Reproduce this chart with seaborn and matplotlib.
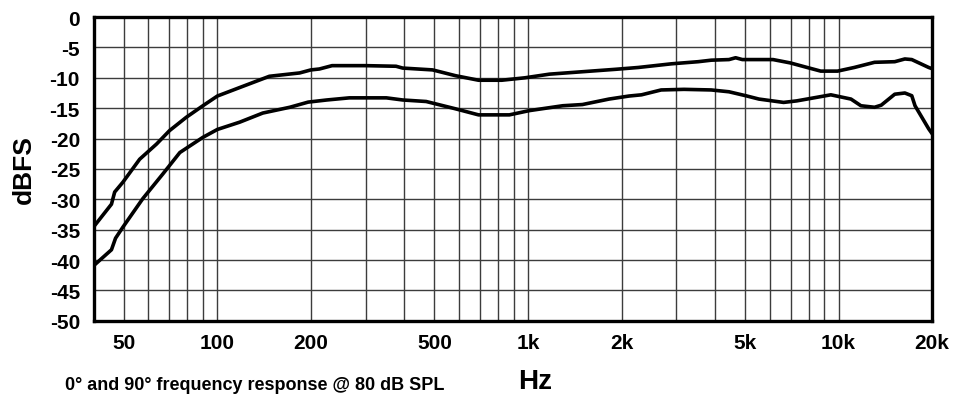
import numpy as np
import pandas as pd
import matplotlib
matplotlib.use("Agg")
import matplotlib.pyplot as plt
import seaborn as sns

sns.set_style("white")
plt.rcParams['font.family'] = ['Liberation Sans', 'DejaVu Sans']
plt.rcParams['font.weight'] = 'bold'
plt.rcParams['text.color'] = 'black'
plt.rcParams['axes.labelcolor'] = 'black'
plt.rcParams['xtick.color'] = 'black'
plt.rcParams['ytick.color'] = 'black'

# 0 degree response (upper curve)
freq_0 = [40, 45.6, 46.7, 49.6, 56.2, 63.7, 70.1, 79.4, 89.8, 100, 118, 147, 184,
          200, 213, 234, 300, 376, 395, 493, 584, 693, 823, 977, 1172, 1497, 1916,
          2265, 2893, 3530, 3890, 4436, 4660, 4900, 6150, 6990, 7920, 8760, 9920,
          11230, 13050, 15160, 16340, 17200, 19500, 20000]
db_0 = [-34.5, -30.8, -28.8, -27.2, -23.4, -20.9, -18.7, -16.5, -14.6, -13.0, -11.6,
        -9.75, -9.2, -8.7, -8.55, -8.0, -8.0, -8.1, -8.4, -8.7, -9.65, -10.4, -10.4,
        -10.0, -9.4, -9.0, -8.6, -8.3, -7.7, -7.35, -7.1, -7.0, -6.7, -7.0, -7.0,
        -7.55, -8.3, -8.9, -8.9, -8.3, -7.45, -7.35, -6.9, -7.0, -8.3, -8.5]

# 90 degree response (lower curve)
freq_90 = [40, 45.6, 47.0, 49.6, 57.5, 66.8, 75.7, 89.8, 100, 118, 140, 171, 196,
           225, 266, 350, 395, 470, 584, 693, 871, 1010, 1293, 1497, 1823, 2115,
           2320, 2683, 3179, 3890, 4436, 5025, 5540, 6650, 7330, 8320, 9440, 10960,
           11800, 13050, 13720, 15160, 16340, 17200, 17620, 19500, 20000]
db_90 = [-40.9, -38.3, -36.4, -34.6, -29.9, -25.8, -22.3, -19.8, -18.5, -17.3, -15.8,
         -14.85, -14.0, -13.65, -13.3, -13.3, -13.65, -13.9, -15.1, -16.1, -16.1,
         -15.4, -14.6, -14.4, -13.5, -13.0, -12.8, -12.0, -11.9, -12.0, -12.3, -12.95,
         -13.5, -14.05, -13.8, -13.3, -12.8, -13.5, -14.6, -14.85, -14.5, -12.7, -12.5,
         -12.95, -14.6, -18.4, -19.2]

x_ticks = [50, 100, 200, 500, 1000, 2000, 5000, 10000, 20000]
x_ticklabels = ['50', '100', '200', '500', '1k', '2k', '5k', '10k', '20k']
y_ticks = list(range(-50, 1, 5))

df = pd.concat([
    pd.DataFrame({'Hz': freq_0, 'dBFS': db_0, 'angle': '0'}),
    pd.DataFrame({'Hz': freq_90, 'dBFS': db_90, 'angle': '90'}),
])

fig = plt.figure(figsize=(9.57, 4.10), dpi=100)
ax = fig.add_axes([0.098, 0.215, 0.876, 0.741])

# log grid lines
grid_x = [f * d for d in (10, 100, 1000) for f in range(5 if d == 10 else 1, 10)] + [10000, 20000]
grid_x = [g for g in grid_x if 40 < g < 20000]
for g in grid_x:
    ax.axvline(g, color='#3c3c3c', lw=1.0, zorder=1)
for y in y_ticks:
    if -50 < y < 0:
        ax.axhline(y, color='#3c3c3c', lw=1.0, zorder=1)

sns.lineplot(data=df, x='Hz', y='dBFS', units='angle', estimator=None, sort=False,
             color='black', lw=2.6, ax=ax, zorder=3)

ax.set_xscale('log')
ax.set_xlim(40, 20000)
ax.set_ylim(-50, 0)
ax.set_xticks(x_ticks)
ax.set_xticklabels(x_ticklabels)
ax.xaxis.set_minor_locator(matplotlib.ticker.NullLocator())
ax.set_yticks(y_ticks)
ax.set_yticklabels([str(v) for v in y_ticks])
ax.tick_params(axis='y', length=0, labelsize=15, pad=10)
ax.tick_params(axis='x', length=0, labelsize=15, pad=9)
for lbl in ax.get_xticklabels() + ax.get_yticklabels():
    lbl.set_fontweight('bold')
ax.set_xlabel('')
ax.set_ylabel('dBFS', fontsize=19, fontweight='bold', labelpad=10)

for s in ax.spines.values():
    s.set_visible(True)
    s.set_color('black')
    s.set_linewidth(2.4)

fig.text(0.068, 0.06, '0° and 90° frequency response @ 80 dB SPL', fontsize=13,
         fontweight='bold', ha='left', va='center')
fig.text(0.541, 0.068, 'Hz', fontsize=20, fontweight='bold', ha='left', va='center')

fig.savefig('out.png', dpi=100)
